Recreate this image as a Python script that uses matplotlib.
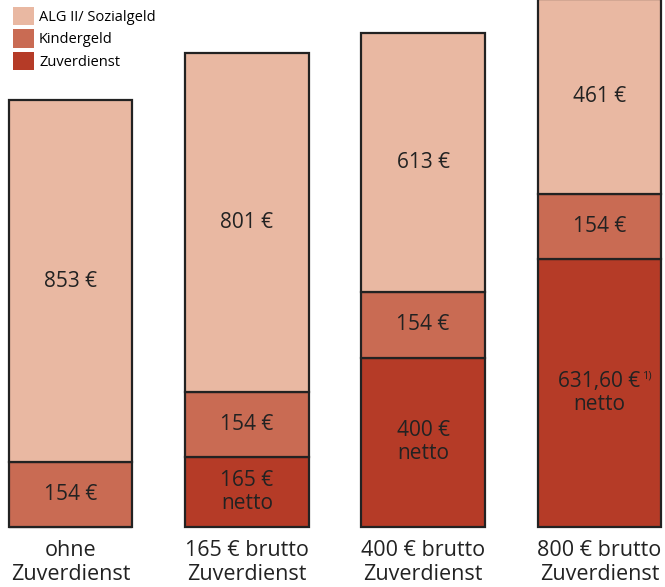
import matplotlib
matplotlib.use("Agg")
import matplotlib.pyplot as plt
from matplotlib.patches import Patch

plt.rcParams["font.family"] = ["Open Sans", "DejaVu Sans"]

categories = ["ohne\nZuverdienst", "165 € brutto\nZuverdienst",
              "400 € brutto\nZuverdienst", "800 € brutto\nZuverdienst"]
zuverdienst = [0, 165, 400, 631.60]
kindergeld = [154, 154, 154, 154]
alg = [853, 801, 613, 461]
zuv_labels = ["", "165 €\nnetto", "400 €\nnetto", "631,60 €\nnetto"]

c_alg, c_kind, c_zuv = "#E9B8A2", "#C96B53", "#B53B27"

fig = plt.figure(figsize=(6.65, 5.87), dpi=100)
ax = fig.add_axes([0, 60 / 587, 1, 527 / 587])
x = list(range(len(categories)))
w = 0.70
bars_kw = dict(width=w, edgecolor="#222222", linewidth=1.6, clip_on=False)

ax.bar(x, zuverdienst, color=c_zuv, **bars_kw)
ax.bar(x, kindergeld, bottom=zuverdienst, color=c_kind, **bars_kw)
base = [z + k for z, k in zip(zuverdienst, kindergeld)]
ax.bar(x, alg, bottom=base, color=c_alg, **bars_kw)

fs = 15
for i in x:
    if zuverdienst[i] > 0:
        ax.text(i, zuverdienst[i] / 2, zuv_labels[i], ha="center", va="center",
                fontsize=fs, color="#222222", linespacing=1.15)
    ax.text(i, zuverdienst[i] + kindergeld[i] / 2, f"{kindergeld[i]} €",
            ha="center", va="center", fontsize=fs, color="#222222")
    ax.text(i, base[i] + alg[i] / 2, f"{alg[i]} €",
            ha="center", va="center", fontsize=fs, color="#222222")

# footnote marker next to the 631,60 € label
ax.annotate("1)", xy=(3, zuverdienst[3] / 2), xytext=(31, 12.5),
            textcoords="offset points", fontsize=8, color="#222222",
            ha="left", va="center")

ax.set_xlim(-0.4, 3.372)
ax.set_ylim(0, 1244)
ax.set_xticks(x)
ax.set_xticklabels(categories, fontsize=15.5, linespacing=1.2, color="#222222")
ax.tick_params(axis="x", length=0, pad=9)
ax.set_yticks([])
for s in ax.spines.values():
    s.set_visible(False)

handles = [Patch(facecolor=c_alg, label="ALG II/ Sozialgeld"),
           Patch(facecolor=c_kind, label="Kindergeld"),
           Patch(facecolor=c_zuv, label="Zuverdienst")]
fig.legend(handles=handles, loc="upper left", bbox_to_anchor=(0.004, 1.006),
           frameon=False, fontsize=10.5, handlelength=1.45, handleheight=1.55,
           handletextpad=0.35, labelspacing=0.3, borderaxespad=0.3)

fig.savefig("out.png", dpi=100)
